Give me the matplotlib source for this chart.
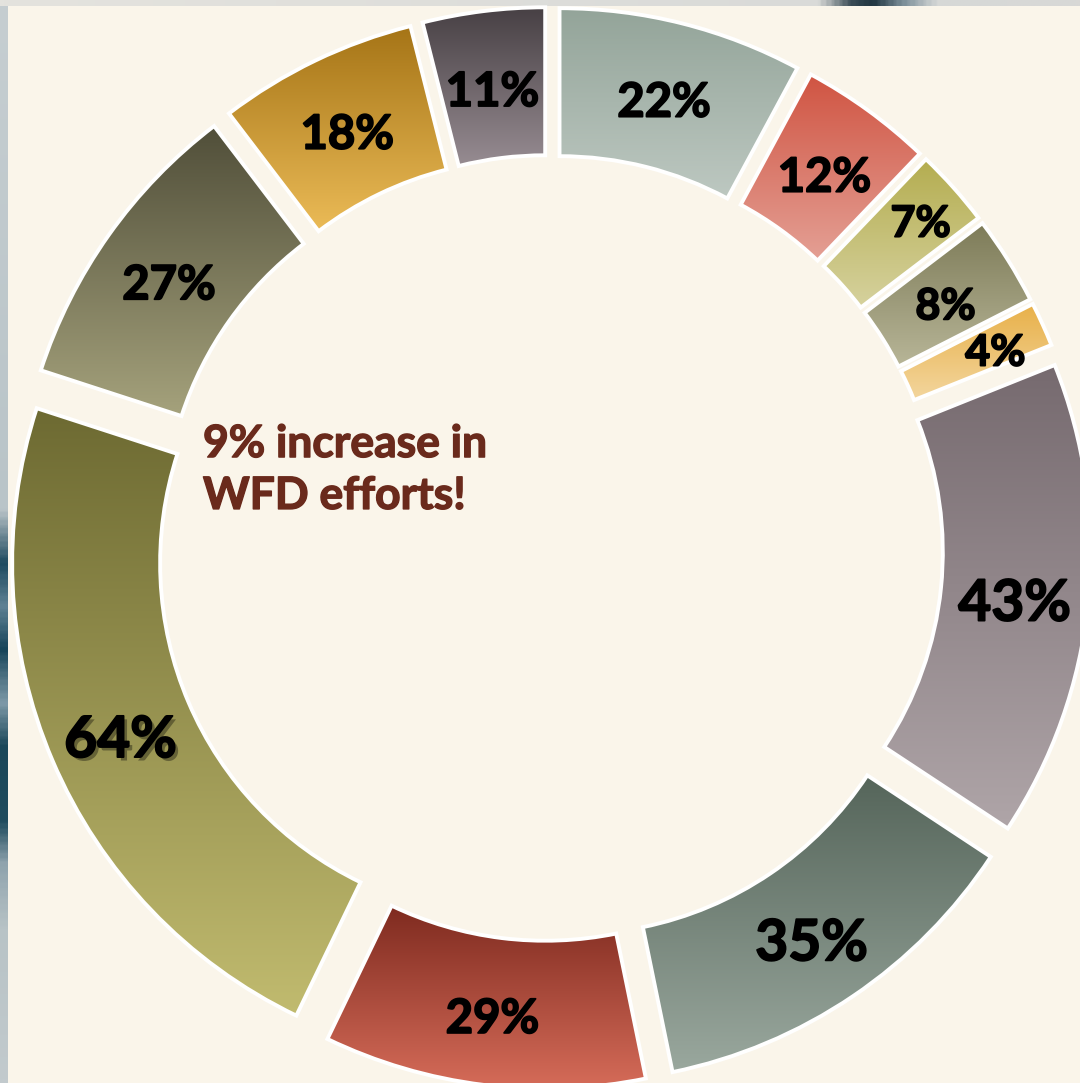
import matplotlib.pyplot as plt
import numpy as np
from matplotlib import patheffects
from matplotlib.colors import LinearSegmentedColormap
from matplotlib.patches import Rectangle

values = [22, 12, 7, 8, 4, 43, 35, 29, 64, 27, 18, 11]
labels = ['22%', '12%', '7%', '8%', '4%', '43%', '35%', '29%', '64%', '27%', '18%', '11%']
top_colors = ['#93A499', '#D05442', '#B4AD50', '#7D7B58', '#E8B048', '#766A6F',
              '#55655A', '#7E2A1F', '#6D6A32', '#504E39', '#A57416', '#474044']
bottom_colors = ['#BDC8C1', '#E4A095', '#D6D29E', '#B8B698', '#F3D69E', '#AFA5A8',
                 '#9AA89E', '#D66C59', '#C1BB6F', '#A5A27C', '#EBBB57', '#978C92']
note = '9% increase in\nWFD efforts!'

W, H = 1080, 1083
CREAM = '#FAF5EA'
# thin slices get their label pushed a little outwards
LABEL_PUSH = {'7%': 30, '4%': 22}

plt.rcParams['font.family'] = ['Lato', 'DejaVu Sans']


def main():
    fig = plt.figure(figsize=(W / 100, H / 100), dpi=100, facecolor='#C8CFD2')
    ax = fig.add_axes([0, 0, 1, 1])

    # soft backdrop strips along the left and top edges
    left_cmap = LinearSegmentedColormap.from_list(
        'left', [(0.0, '#C6CED1'), (0.47, '#B9C4C8'), (0.52, '#1E4A5E'),
                 (0.56, '#5F8294'), (0.60, '#17455A'), (0.65, '#7E9AA8'),
                 (0.69, '#1A4759'), (0.76, '#204C5E'), (0.80, '#8FA3AD'),
                 (0.86, '#B8C3C6'), (1.0, '#C2CACD')])
    ax.imshow(np.linspace(0, 1, 400).reshape(-1, 1), cmap=left_cmap,
              extent=(0, 8, 0, H), aspect='auto', zorder=0)
    top_cmap = LinearSegmentedColormap.from_list(
        'top', [(0.0, '#E4E3DE'), (0.76, '#D9DAD8'), (0.79, '#3A4C56'),
                (0.81, '#1F3440'), (0.84, '#7F929C'), (0.87, '#D6D8D7'),
                (1.0, '#D8D8D6')])
    ax.imshow(np.linspace(0, 1, 400).reshape(1, -1), cmap=top_cmap,
              extent=(0, W, H - 6, H), aspect='auto', zorder=0)
    ax.add_patch(Rectangle((8, 0), W - 8, H - 6, facecolor=CREAM,
                           edgecolor='none', zorder=0.5))

    cx, cy = 550, H - 548
    radius = 502
    ring = 148
    # pie explode offsets are in data units here (pixels)
    explode = [39] * len(values)

    wedges, _ = ax.pie(values, radius=radius, center=(cx, cy), startangle=90,
                       counterclock=False, explode=explode,
                       wedgeprops=dict(width=ring, facecolor='none',
                                       edgecolor='white', linewidth=2.8))

    # vertical gradient inside every slice
    for w, top, bot in zip(wedges, top_colors, bottom_colors):
        ext = w.get_path().get_extents()
        cmap = LinearSegmentedColormap.from_list('g', [top, bot])
        img = ax.imshow(np.linspace(0, 1, 256).reshape(-1, 1), cmap=cmap,
                        extent=(ext.x0, ext.x1, ext.y0, ext.y1),
                        aspect='auto', interpolation='bilinear', zorder=1)
        img.set_clip_path(w)
        w.set_zorder(2)

    for w, lab, v in zip(wedges, labels, values):
        ang = np.deg2rad((w.theta1 + w.theta2) / 2)
        r_lab = radius - ring / 2 + LABEL_PUSH.get(lab, 0)
        if v >= 35:
            size = 41
        elif v >= 10:
            size = 34
        else:
            size = 31
        x = w.center[0] + r_lab * np.cos(ang)
        y = w.center[1] + r_lab * np.sin(ang) - 0.22 * size
        effects = [patheffects.withStroke(linewidth=1.3, foreground='black')]
        if v == max(values):
            effects = [patheffects.SimplePatchShadow(offset=(2.5, -2.5),
                                                     shadow_rgbFace='black', alpha=0.35),
                       patheffects.Stroke(linewidth=1.3, foreground='black'),
                       patheffects.Normal()]
        ax.text(x, y, lab, ha='center', va='center', fontsize=size,
                fontweight='bold', color='black', zorder=3,
                path_effects=effects)

    ax.text(203, H - 470, note, ha='left', va='center', fontsize=32,
            fontweight='bold', color='#6A2A1C', linespacing=1.36, zorder=3,
            path_effects=[patheffects.withStroke(linewidth=1.0, foreground='#6A2A1C')])

    ax.set_xlim(0, W)
    ax.set_ylim(0, H)
    ax.set_aspect('equal')
    ax.axis('off')

    fig.savefig('out.png', dpi=100, facecolor=fig.get_facecolor())


if __name__ == '__main__':
    main()
